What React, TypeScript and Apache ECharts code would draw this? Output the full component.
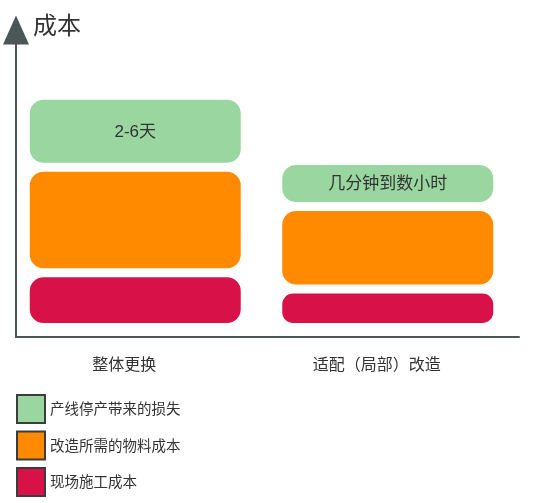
import { useEffect, useRef } from 'react';
import * as echarts from 'echarts';

const categories = ['整体更换', '适配（局部）改造'];
const seriesNames = ['现场施工成本', '改造所需的物料成本', '产线停产带来的损失'];
const siteCost = [5.7, 4.0];
const materialCost = [11.0, 8.6];
const downtimeLoss = [7.5, 4.8];
const downtimeLabels = ['2-6天', '几分钟到数小时'];

const AXIS = '#4b5656';
const TEXT = '#333333';
const FONT = '"Liberation Sans", "Noto Sans CJK SC", sans-serif';

export default function App() {
  const chartRef = useRef<HTMLDivElement>(null);
  useEffect(() => {
    if (!chartRef.current) return;
    const chart = echarts.init(chartRef.current, undefined, { renderer: 'svg' });
    const barStyle = (color: string) => ({
      color,
      borderColor: '#ffffff',
      borderWidth: 4.5,
      borderRadius: 16,
    });
    chart.setOption({
      animation: false,
      textStyle: { fontFamily: FONT },
      grid: [
        { left: 16, right: 17, top: 30, bottom: 166 },
        { left: 9, right: 22, top: 30, bottom: 166 },
      ],
      legend: {
        orient: 'vertical',
        left: 16,
        top: 394,
        padding: 0,
        itemWidth: 28,
        itemHeight: 28,
        itemGap: 6.5,
        icon: 'rect',
        data: [seriesNames[2], seriesNames[1], seriesNames[0]],
        itemStyle: { borderColor: '#3c3c3c', borderWidth: 2 },
        textStyle: { fontSize: 14.5, color: TEXT, fontFamily: FONT },
      },
      xAxis: [
        {
          type: 'category',
          gridIndex: 0,
          data: categories,
          axisLine: { onZero: false, lineStyle: { color: AXIS, width: 2 } },
          axisTick: { show: false },
          axisLabel: { show: false },
        },
        {
          type: 'category',
          gridIndex: 1,
          data: categories,
          axisLine: { show: false },
          axisTick: { show: false },
          axisLabel: {
            margin: 19,
            fontSize: 16,
            color: TEXT,
            fontFamily: FONT,
            padding: [0, 22, 0, 0],
          },
        },
      ],
      yAxis: [
        {
          type: 'value',
          gridIndex: 0,
          min: -1,
          max: 31,
          name: '成本',
          nameLocation: 'end',
          nameGap: 5,
          nameTextStyle: {
            fontSize: 24,
            color: TEXT,
            align: 'left',
            verticalAlign: 'middle',
            padding: [0, 0, 0, 17],
            fontFamily: FONT,
          },
          axisLine: {
            show: true,
            symbol: ['none', 'triangle'],
            symbolSize: [26, 29],
            lineStyle: { color: AXIS, width: 2 },
          },
          axisTick: { show: false },
          axisLabel: { show: false },
          splitLine: { show: false },
        },
        {
          type: 'value',
          gridIndex: 1,
          min: -1,
          max: 31,
          show: false,
          splitLine: { show: false },
        },
      ],
      series: [
        {
          name: seriesNames[0],
          type: 'bar',
          stack: 'cost',
          xAxisIndex: 1,
          yAxisIndex: 1,
          barWidth: 220,
          data: siteCost.map((v, i) => ({
            value: v,
            itemStyle: i === 1 ? { borderRadius: 13 } : undefined,
          })),
          itemStyle: barStyle('#d81249'),
        },
        {
          name: seriesNames[1],
          type: 'bar',
          stack: 'cost',
          xAxisIndex: 1,
          yAxisIndex: 1,
          barWidth: 220,
          data: materialCost,
          itemStyle: barStyle('#ff8a00'),
        },
        {
          name: seriesNames[2],
          type: 'bar',
          stack: 'cost',
          xAxisIndex: 1,
          yAxisIndex: 1,
          barWidth: 220,
          data: downtimeLoss,
          itemStyle: barStyle('#9ad69f'),
          label: {
            show: true,
            position: 'inside',
            fontSize: 17,
            color: TEXT,
            fontFamily: FONT,
            formatter: (p: { dataIndex: number }) => downtimeLabels[p.dataIndex],
          },
        },
      ],
    });
    return () => {
      chart.dispose();
    };
  }, []);
  return (
    <div
      ref={chartRef}
      style={{ position: 'fixed', left: 0, top: 0, width: 536, height: 503 }}
    />
  );
}
